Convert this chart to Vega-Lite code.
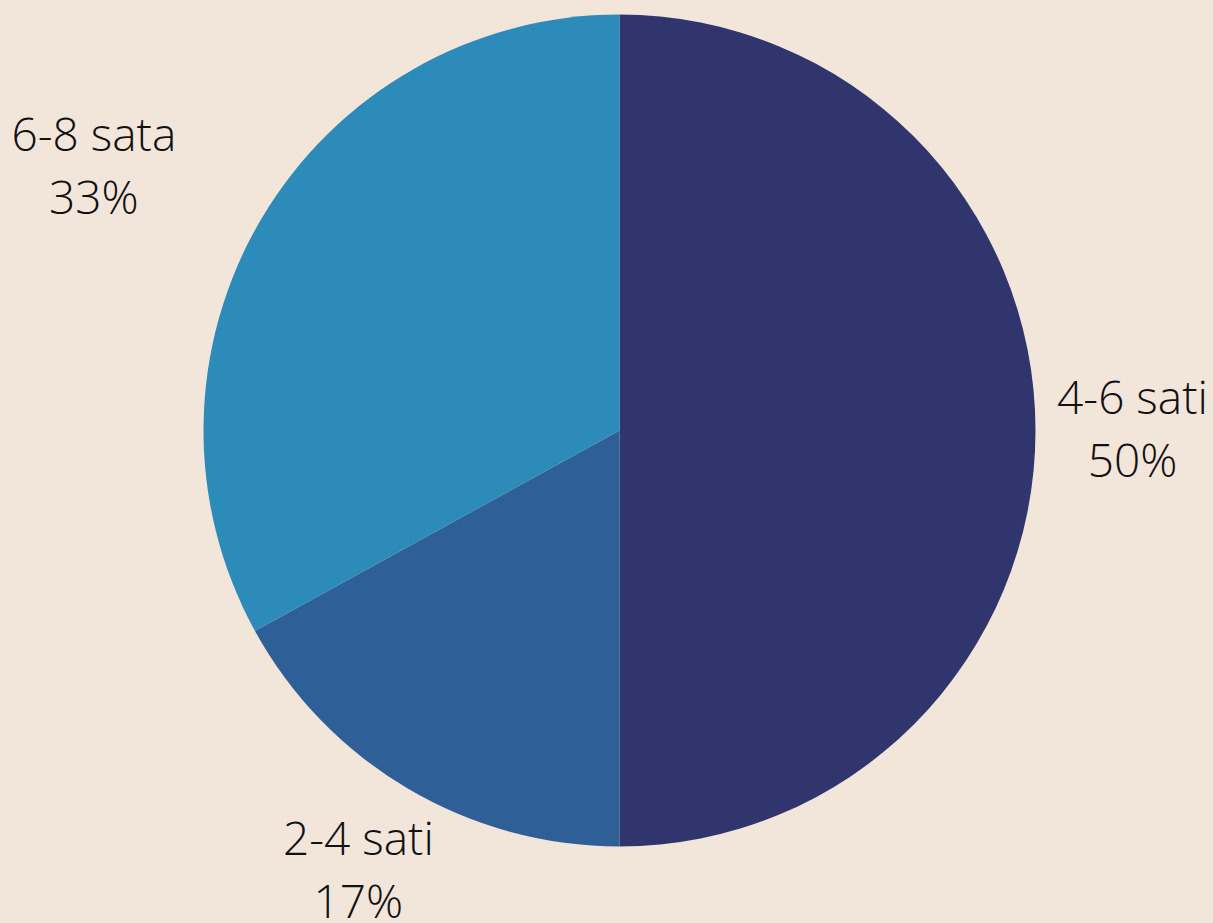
{
  "$schema": "https://vega.github.io/schema/vega-lite/v6.json",
  "width": 1187,
  "height": 861,
  "autosize": {"type": "none"},
  "padding": {"left": 26, "top": 0, "right": 0, "bottom": 62},
  "background": "#F2E6DB",
  "config": {"view": {"stroke": null}},
  "data": {
    "values": [
      {"category": "4-6 sati", "value": 50, "order": 1, "label": ["4-6 sati", "50%"]},
      {"category": "2-4 sati", "value": 17, "order": 2, "label": ["2-4 sati", "17%"]},
      {"category": "6-8 sata", "value": 33, "order": 3, "label": ["6-8 sata", "33%"]}
    ]
  },
  "encoding": {
    "theta": {"field": "value", "type": "quantitative", "stack": true},
    "order": {"field": "order", "type": "quantitative"},
    "color": {
      "field": "category",
      "type": "nominal",
      "scale": {"domain": ["4-6 sati", "2-4 sati", "6-8 sata"], "range": ["#31356E", "#2E5F97", "#2D8BBA"]},
      "legend": null
    }
  },
  "layer": [
    {"mark": {"type": "arc", "outerRadius": 416}},
    {
      "mark": {"type": "text", "radius": 513, "dy": -31, "font": "Open Sans", "fontWeight": 300, "fontSize": 46, "lineHeight": 63, "align": "center", "baseline": "middle"},
      "encoding": {
        "text": {"condition": {"test": "datum.category != '6-8 sata'", "field": "label"}, "value": ""},
        "color": {"value": "#111111"}
      }
    },
    {
      "mark": {"type": "text", "radius": 513, "dx": -84, "dy": -32, "font": "Open Sans", "fontWeight": 300, "fontSize": 46, "lineHeight": 63, "align": "center", "baseline": "middle"},
      "encoding": {
        "text": {"condition": {"test": "datum.category == '6-8 sata'", "field": "label"}, "value": ""},
        "color": {"value": "#111111"}
      }
    }
  ]
}
